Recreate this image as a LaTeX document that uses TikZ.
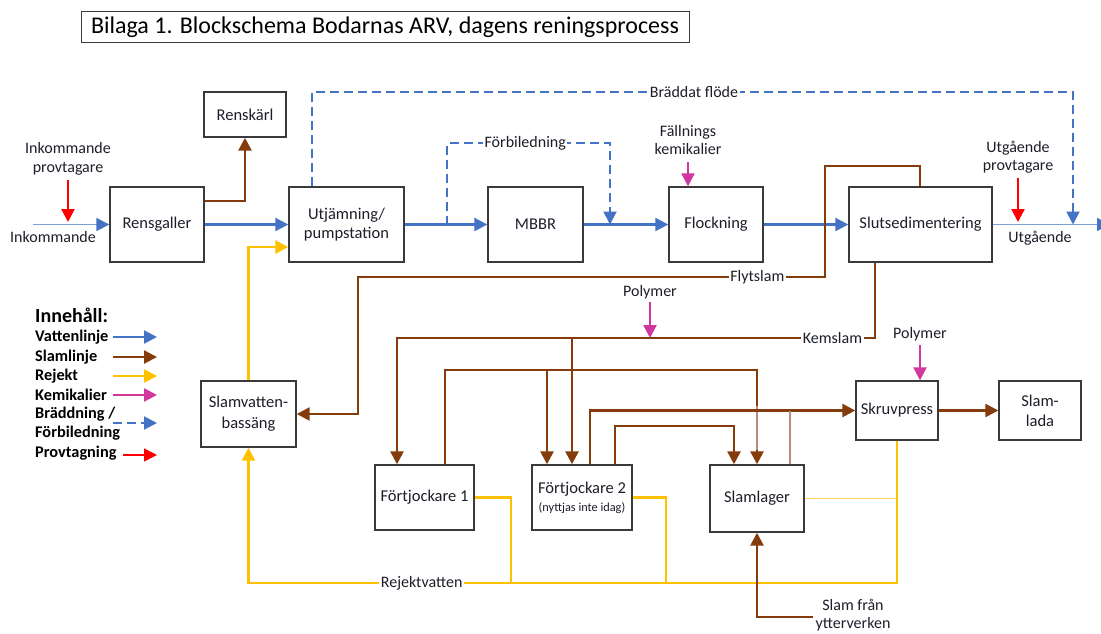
\documentclass[tikz,border=0pt]{standalone}
\usepackage{fontspec}
\setmainfont{Carlito}
\usetikzlibrary{arrows.meta}

\definecolor{vatten}{HTML}{4472C4}
\definecolor{vattenljus}{HTML}{7F9FD8}
\definecolor{slam}{HTML}{843C0C}
\definecolor{slamljus}{HTML}{B98C7A}
\definecolor{rejekt}{HTML}{FFC000}
\definecolor{rejektljus}{HTML}{FFD25A}
\definecolor{kemi}{HTML}{D0389E}
\definecolor{prov}{HTML}{FF0000}
\definecolor{ram}{HTML}{3A3A3A}
\definecolor{txt}{HTML}{1E1E2A}

\tikzset{
  tip/.style={-{Triangle[length=13pt,width=13pt]}},
  vtip/.style={-{Triangle[length=13pt,width=13pt,color=vatten]}},
  box/.style={draw=ram, line width=1.4pt, fill=white, text=txt, align=center,
    font=\fontsize{16.5}{19}\selectfont, inner sep=0pt},
  lbl/.style={text=txt, align=center, font=\fontsize{16}{18.5}\selectfont, inner sep=0pt},
  linelbl/.style={lbl, fill=white, inner xsep=1.5pt, inner ysep=1pt},
  vline/.style={draw=vatten, line width=2.2pt},
  vthin/.style={draw=vattenljus, line width=1.6pt},
  vdash/.style={draw=vatten, line width=2pt, dash pattern=on 9pt off 5pt},
  sline/.style={draw=slam, line width=2.6pt},
  rline/.style={draw=rejekt, line width=2.6pt},
  kline/.style={draw=kemi, line width=2.4pt},
  pline/.style={draw=prov, line width=2.2pt},
  legtxt/.style={text=black, anchor=west, font=\bfseries\fontsize{16.3}{18}\selectfont, inner sep=0pt, align=left},
}

\begin{document}
\begin{tikzpicture}[x=1pt,y=-1pt]
\useasboundingbox[fill=white] (0,0) rectangle (1101,633);

% title
\node[draw=ram, line width=1pt, minimum width=608pt, minimum height=31pt, inner sep=0pt,
  font=\fontsize{24}{27}\selectfont, text=black] (title) at (385,27)
  {Bilaga 1. Blockschema Bodarnas ARV, dagens reningsprocess};

% process blocks
\node[box, minimum width=82pt, minimum height=45pt] (renskarl) at (245,114.5) {Renskärl};
\node[box, minimum width=94pt, minimum height=75pt] (rensgaller) at (157,224.5) {Rensgaller};
\node[box, minimum width=115pt, minimum height=75pt] (utj) at (346.5,224.5) {Utjämning/\\pumpstation};
\node[box, minimum width=95pt, minimum height=75pt] (mbbr) at (535.5,224.5) {MBBR};
\node[box, minimum width=94pt, minimum height=75pt] (flock) at (716,224.5) {Flockning};
\node[box, minimum width=143pt, minimum height=75pt] (slut) at (920.5,224.5) {Slutsedimentering};
\node[box, minimum width=95pt, minimum height=66pt] (slamv) at (248.5,414) {Slamvatten-\\[2pt]bassäng};
\node[box, minimum width=99pt, minimum height=65pt] (fortj1) at (424.5,497.5) {Förtjockare 1};
\node[box, minimum width=100pt, minimum height=65pt] (fortj2) at (582,497.5)
  {Förtjockare 2\\[-1pt]{\fontsize{12.3}{14}\selectfont (nyttjas inte idag)}};
\node[box, minimum width=94pt, minimum height=67pt] (slamlager) at (757,498.5) {Slamlager};
\node[box, minimum width=82pt, minimum height=59pt] (skruv) at (897,410.5) {Skruvpress};
\node[box, minimum width=82pt, minimum height=59pt] (slamlada) at (1040,410.5) {Slam-\\[1pt]lada};

% free labels
\node[lbl] (inprovtxt) at (68,159) {Inkommande\\provtagare};
\node[lbl] (intxt) at (53,237) {Inkommande};
\node[lbl] (fallntxt) at (688,140) {Fällnings\\kemikalier};
\node[lbl] (utprovtxt) at (1018,157) {Utgående\\provtagare};
\node[lbl] (uttxt) at (1040,238) {Utgående};
\node[lbl] (poly1) at (650,292) {Polymer};
\node[lbl] (poly2) at (920,334) {Polymer};
\node[lbl] (ytter) at (853,615) {Slam från\\ytterverken};

% helper points
\coordinate (inStart) at (33,224.5);
\coordinate (utEnd) at (1110,224.5);
\coordinate (fbA) at (447,224.5);
\coordinate (fbB) at (447,143);
\coordinate (fbC) at (610,143);
\coordinate (fbD) at (610,224.5);
\coordinate (brA) at (312,92);
\coordinate (brB) at (1073,92);
\coordinate (brC) at (1073,224.5);
\coordinate (inProvA) at (68,180);
\coordinate (inProvB) at (68,222);
\coordinate (utProvA) at (1018,178);
\coordinate (utProvB) at (1018,222);
\coordinate (kemA) at (688,162);
\coordinate (pol1A) at (650,302);
\coordinate (pol1B) at (650,338);
\coordinate (pol2A) at (920,345);
\coordinate (flA) at (920,166);
\coordinate (flB) at (825,166);
\coordinate (flC) at (825,277);
\coordinate (flD) at (358,277);
\coordinate (flE) at (358,414);
\coordinate (kmA) at (875,338);
\coordinate (kmB) at (397,338);
\coordinate (kmC) at (572,338);
\coordinate (l370A) at (445,370);
\coordinate (l370B) at (757,370);
\coordinate (l370C) at (547,370);
\coordinate (l426A) at (615,426);
\coordinate (l426B) at (734,426);
\coordinate (l409A) at (790,410.5);
\coordinate (ytA) at (813,617);
\coordinate (rjA) at (897,583);
\coordinate (rjB) at (248.5,583);
\coordinate (rjF1) at (511,583);
\coordinate (rjF2) at (666,583);
\coordinate (rjSl) at (897,498.5);

% water line
\draw[vthin, vtip] (inStart) -- (rensgaller.west);
\draw[vline, tip] (rensgaller.east) -- (utj.west);
\draw[vline, tip] (utj.east) -- (mbbr.west);
\draw[vline, tip] (mbbr.east) -- (flock.west);
\draw[vline, tip] (flock.east) -- (slut.west);
\draw[vthin, vtip] (slut.east) -- (utEnd);

% bypass lines
\draw[vdash, tip] (fbA) -- (fbB) -- node[linelbl, pos=0.48] (fbtxt) {Förbiledning} (fbC) -- (fbD);
\draw[vdash, tip] ([xshift=-34.5pt]utj.north) -- (brA) -- node[linelbl, pos=0.502] (brtxt) {Bräddat flöde} (brB) -- (brC);

% sampling
\draw[pline, tip] (inProvA) -- (inProvB);
\draw[pline, tip] (utProvA) -- (utProvB);

% chemicals
\draw[kline, tip] (kemA) -- ([xshift=-28pt]flock.north);
\draw[kline, tip] (pol1A) -- (pol1B);
\draw[kline, tip] (pol2A) -- ([xshift=23pt]skruv.north);

% reject water
\draw[rline, tip] (slamv.north) |- ([yshift=-22.5pt]utj.west);
\draw[draw=rejektljus, line width=1.8pt] (slamlager.east) -- (rjSl);
\draw[rline] (fortj1.east) -| (rjF1);
\draw[rline] (fortj2.east) -| (rjF2);
\draw[rline, tip] (skruv.south) -- (rjA) -- node[linelbl, pos=0.733] (rjtxt) {Rejektvatten} (rjB) -- (slamv.south);

% sludge lines
\draw[sline, tip] ([yshift=23.5pt]rensgaller.east) -| (renskarl.south);
\draw[sline, tip] ([xshift=-0.5pt]slut.north) -- (flA) -- (flB) -- (flC) -- node[linelbl, pos=0.145] (fltxt) {Flytslam} (flD) -- (flE) -- (slamv.east);
\draw[sline, tip] ([xshift=-45.5pt]slut.south) -- (kmA) -- node[linelbl, pos=0.089] (kmtxt) {Kemslam} (kmB) -- ([xshift=-27.5pt]fortj1.north);
\draw[sline, tip] (kmC) -- ([xshift=-10pt]fortj2.north);
\draw[sline, tip] ([xshift=20.5pt]fortj1.north) -- (l370A) -- (l370B) -- (slamlager.north);
\draw[draw=slamljus, line width=2.6pt] ([yshift=5pt]l370B |- skruv.west) -- ([yshift=14pt]slamlager.north);
\draw[sline, tip] (l370C) -- ([xshift=-35pt]fortj2.north);
\draw[sline, tip] ([xshift=8pt]fortj2.north) |- (skruv.west);
\draw[draw=slamljus, line width=2.2pt] ([xshift=33pt]slamlager.north) -- (l409A);
\draw[sline, tip] ([xshift=33pt]fortj2.north) -- (l426A) -- (l426B) -- ([xshift=-23pt]slamlager.north);
\draw[sline, tip] (skruv.east) -- (slamlada.west);
\draw[sline, tip] (ytA) -| (slamlager.south);

% legend
\node[legtxt, font=\bfseries\fontsize{20}{22}\selectfont] (legtitle) at (35,315) {Innehåll:};
\node[legtxt] (lg1) at (35,337) {Vattenlinje};
\node[legtxt] (lg2) at (35,357) {Slamlinje};
\node[legtxt] (lg3) at (35,376) {Rejekt};
\node[legtxt] (lg4) at (35,395) {Kemikalier};
\node[legtxt] (lg5) at (35,424) {Bräddning /\\[1pt]Förbiledning};
\node[legtxt] (lg6) at (35,453) {Provtagning};
\coordinate (la1) at (113,337); \coordinate (lb1) at (157,337);
\coordinate (la2) at (113,357); \coordinate (lb2) at (157,357);
\coordinate (la3) at (113,376); \coordinate (lb3) at (157,376);
\coordinate (la4) at (113,395); \coordinate (lb4) at (157,395);
\coordinate (la5) at (113,423); \coordinate (lb5) at (157,423);
\coordinate (la6) at (123,455); \coordinate (lb6) at (157,455);
\draw[vline, tip] (la1) -- (lb1);
\draw[sline, tip] (la2) -- (lb2);
\draw[rline, tip] (la3) -- (lb3);
\draw[kline, tip] (la4) -- (lb4);
\draw[vdash, tip] (la5) -- (lb5);
\draw[draw=prov, line width=1.6pt, tip] (la6) -- (lb6);
\end{tikzpicture}
\end{document}
